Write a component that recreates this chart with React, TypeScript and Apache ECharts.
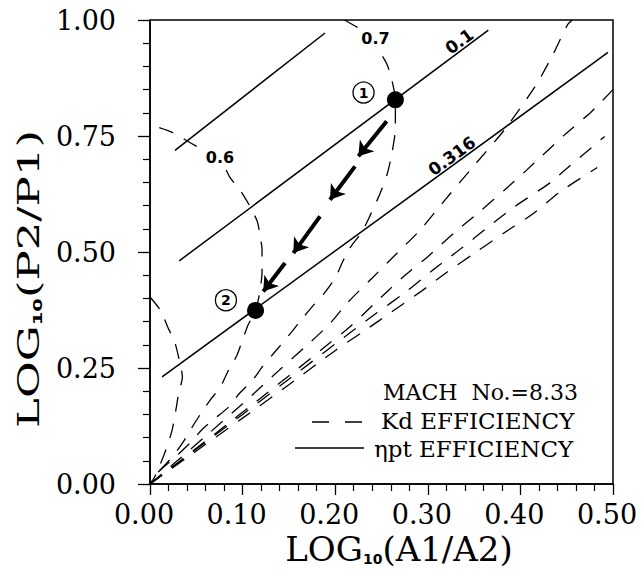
import React, { useEffect, useRef } from "react";
import * as echarts from "echarts";

// ---- tick labels ----
const xTickValues = [0, 0.1, 0.2, 0.3, 0.4, 0.5];
const xTickLabels = ["0.00", "0.10", "0.20", "0.30", "0.40", "0.50"];
const yTickValues = [0, 0.25, 0.5, 0.75, 1.0];
const yTickLabels = ["0.00", "0.25", "0.50", "0.75", "1.00"];

// ---- ηpt efficiency lines (solid) ----
const etaUpper = [[0.027, 0.719], [0.189, 0.972]];
const eta01 = [[0.0316, 0.481], [0.3654, 0.978]];
const eta0316 = [[0.013, 0.231], [0.4946, 0.93]];

// ---- Kd efficiency curves (dashed) ----
const kdLoopSmall = [
  [0, 0.403], [0.011, 0.375], [0.019, 0.339], [0.027, 0.304], [0.032, 0.263],
  [0.035, 0.231], [0.031, 0.196], [0.028, 0.16], [0.024, 0.117], [0.019, 0.084],
  [0.013, 0.052], [0.005, 0.015], [0, 0],
];
const kd06 = [
  [0.01, 0.768], [0.025, 0.757], [0.043, 0.736], [0.059, 0.718], [0.076, 0.699],
  [0.086, 0.662], [0.099, 0.628], [0.108, 0.598], [0.116, 0.565], [0.119, 0.533],
  [0.121, 0.505], [0.121, 0.457], [0.118, 0.408], [0.114, 0.375], [0.106, 0.343],
  [0.1, 0.311], [0.094, 0.278], [0.084, 0.242], [0.076, 0.209], [0.065, 0.181],
  [0.054, 0.149], [0.045, 0.121], [0.035, 0.088], [0.024, 0.058], [0.011, 0.03], [0, 0],
];
const kd07 = [
  [0.21, 1.0], [0.224, 0.984], [0.234, 0.971], [0.248, 0.932], [0.256, 0.904],
  [0.261, 0.872], [0.265, 0.828], [0.265, 0.768], [0.261, 0.71], [0.256, 0.667],
  [0.248, 0.624], [0.238, 0.58], [0.229, 0.544], [0.216, 0.509], [0.208, 0.479],
  [0.2, 0.444], [0.187, 0.408], [0.176, 0.384], [0.165, 0.358], [0.153, 0.328],
  [0.144, 0.306], [0.132, 0.278], [0.121, 0.252], [0.111, 0.224], [0.097, 0.196],
  [0.084, 0.164], [0.068, 0.138], [0.056, 0.117], [0.043, 0.088], [0.025, 0.054],
  [0.009, 0.026], [0, 0],
];
const kdFanA = [
  [0, 0], [0.03, 0.051], [0.06, 0.103], [0.1, 0.173], [0.14, 0.246], [0.17, 0.3],
  [0.194, 0.345], [0.213, 0.39], [0.24, 0.444], [0.267, 0.498], [0.292, 0.548],
  [0.316, 0.606], [0.346, 0.677], [0.383, 0.764], [0.416, 0.857], [0.434, 0.921],
  [0.451, 0.99], [0.456, 1.0],
];
const kdFanB = [
  [0, 0], [0.03, 0.046], [0.07, 0.108], [0.12, 0.186], [0.16, 0.249], [0.194, 0.304],
  [0.216, 0.339], [0.243, 0.39], [0.272, 0.444], [0.3, 0.49], [0.329, 0.542],
  [0.356, 0.587], [0.386, 0.639], [0.407, 0.677], [0.421, 0.703], [0.448, 0.753],
  [0.477, 0.803], [0.5, 0.85],
];
const kdFanC = [
  [0, 0], [0.04, 0.06], [0.1, 0.15], [0.16, 0.241], [0.216, 0.326], [0.245, 0.369],
  [0.275, 0.412], [0.306, 0.462], [0.337, 0.509], [0.364, 0.552], [0.394, 0.598],
  [0.432, 0.649], [0.446, 0.673], [0.491, 0.749],
];
const kdFanD = [
  [0, 0], [0.04, 0.057], [0.1, 0.142], [0.15, 0.214], [0.201, 0.289], [0.23, 0.328],
  [0.261, 0.371], [0.292, 0.414], [0.321, 0.457], [0.353, 0.501], [0.383, 0.542],
  [0.414, 0.583], [0.443, 0.63], [0.483, 0.682],
];

// ---- operating points and path arrows ----
const statePoints = [[0.265, 0.828], [0.114, 0.374]];
const stateTags = ["1", "2"];
const stateTagPositions = [[0.2306, 0.8436], [0.082, 0.396]];
const pathArrows = [
  [[0.2556, 0.7817], [0.225, 0.7062]],
  [[0.2214, 0.6846], [0.1944, 0.6127]],
  [[0.1836, 0.5767], [0.1548, 0.4977]],
  [[0.1458, 0.4762], [0.1223, 0.4149]],
];

// ---- contour labels ----
const slopeLabelTexts = ["0.1", "0.316"];
const slopeLabelPositions = [[0.334, 0.954], [0.326, 0.707]];
const curveLabelTexts = ["0.6", "0.7"];
const curveLabelPositions = [[0.0756, 0.7044], [0.2435, 0.96]];

// ---- legend texts ----
const machText = "MACH  No.=8.33";
const kdName = "Kd EFFICIENCY";
const etaName = "ηpt EFFICIENCY";

const SERIF = "DejaVu Serif";
const SANS = "DejaVu Sans";
const CLEAR = "rgba(0,0,0,0)";
const DASH = [15, 12];

export default function App() {
  const ref = useRef<HTMLDivElement>(null);

  useEffect(() => {
    if (!ref.current) return;
    const chart = echarts.init(ref.current, null, { renderer: "svg" });

    const solid = (data: number[][]) => ({
      type: "line",
      name: etaName,
      data,
      symbol: "none",
      showSymbol: false,
      lineStyle: { color: "#000", width: 1.5, type: "solid" },
      itemStyle: { color: "#000" },
      z: 3,
      silent: true,
    });
    const dashed = (data: number[][]) => ({
      type: "line",
      name: kdName,
      data,
      symbol: "none",
      showSymbol: false,
      smooth: 0.25,
      lineStyle: { color: "#000", width: 1.3, type: DASH },
      itemStyle: { color: "#000" },
      z: 2,
      silent: true,
    });

    const legendText = (text: string, x: number, y: number) => ({
      type: "text",
      x,
      y,
      z: 10,
      style: {
        text,
        fontFamily: SERIF,
        fontSize: 23,
        fill: "#000",
        align: "left",
        verticalAlign: "middle",
      },
    });

    const option: any = {
      animation: false,
      backgroundColor: "#fff",
      textStyle: { fontFamily: SERIF, color: "#000" },
      grid: {
        left: 150,
        top: 20,
        width: 463,
        height: 464,
        show: true,
        borderColor: "#000",
        borderWidth: 1.5,
        containLabel: false,
      },
      xAxis: {
        type: "value",
        min: 0,
        max: 0.5,
        interval: 0.1,
        axisLine: { show: true, lineStyle: { color: "#000", width: 1.5 } },
        axisTick: { show: true, inside: false, length: 11, lineStyle: { color: "#000", width: 1.3 } },
        minorTick: { show: true, splitNumber: 5, length: 7, lineStyle: { color: "#000", width: 1.2 } },
        splitLine: { show: false },
        axisLabel: {
          margin: 17,
          fontFamily: SERIF,
          fontSize: 27,
          color: "#000",
          padding: [0, 12, 0, 0],
          formatter: (v: number) => {
            const i = xTickValues.findIndex((t) => Math.abs(t - v) < 1e-6);
            return i >= 0 ? xTickLabels[i] : "";
          },
        },
      },
      yAxis: {
        type: "value",
        min: 0,
        max: 1,
        interval: 0.25,
        axisLine: { show: true, lineStyle: { color: "#000", width: 1.5 } },
        axisTick: { show: true, inside: false, length: 12, lineStyle: { color: "#000", width: 1.3 } },
        minorTick: { show: true, splitNumber: 5, length: 7, lineStyle: { color: "#000", width: 1.2 } },
        splitLine: { show: false },
        axisLabel: {
          margin: 34,
          fontFamily: SERIF,
          fontSize: 27,
          color: "#000",
          formatter: (v: number) => {
            const i = yTickValues.findIndex((t) => Math.abs(t - v) < 1e-6);
            return i >= 0 ? yTickLabels[i] : "";
          },
        },
      },
      graphic: [
        {
          type: "text",
          x: 29,
          y: 279,
          rotation: Math.PI / 2,
          scaleX: 1.5,
          style: {
            text: "{a|LOG}{s|10}{a|(P2/P1)}",
            align: "center",
            verticalAlign: "middle",
            fill: "#000",
            rich: {
              a: { fontFamily: SERIF, fontSize: 30, fill: "#000" },
              s: { fontFamily: SANS, fontSize: 13, fontWeight: "bold", fill: "#000", verticalAlign: "bottom" },
            },
          },
        },
        {
          type: "text",
          x: 399,
          y: 549,
          style: {
            text: "{a|LOG}{s|10}{a|(A1/A2)}",
            align: "center",
            verticalAlign: "middle",
            fill: "#000",
            rich: {
              a: { fontFamily: SERIF, fontSize: 34, fill: "#000" },
              s: { fontFamily: SANS, fontSize: 14, fontWeight: "bold", fill: "#000", verticalAlign: "bottom" },
            },
          },
        },
        // legend block
        {
          type: "text",
          x: 383,
          y: 392,
          z: 10,
          style: {
            text: machText,
            fontFamily: SERIF,
            fontSize: 22,
            fill: "#000",
            align: "left",
            verticalAlign: "middle",
          },
        },
        {
          type: "line",
          z: 10,
          shape: { x1: 312, y1: 422, x2: 364, y2: 422 },
          style: { stroke: "#000", lineWidth: 1.3, lineDash: [17, 16] },
        },
        legendText(kdName, 381, 421),
        {
          type: "line",
          z: 10,
          shape: { x1: 295, y1: 448, x2: 364, y2: 448 },
          style: { stroke: "#000", lineWidth: 1.5 },
        },
        legendText(etaName, 374, 449),
      ],
      series: [
        solid(etaUpper),
        solid(eta01),
        solid(eta0316),
        dashed(kdLoopSmall),
        dashed(kd06),
        dashed(kd07),
        dashed(kdFanA),
        dashed(kdFanB),
        dashed(kdFanC),
        dashed(kdFanD),
        {
          type: "lines",
          name: "path",
          coordinateSystem: "cartesian2d",
          symbol: ["none", "arrow"],
          symbolSize: 14,
          lineStyle: { color: "#000", width: 4, opacity: 1, curveness: 0 },
          data: pathArrows.map((c) => ({ coords: c })),
          z: 5,
          silent: true,
        },
        {
          type: "scatter",
          name: "states",
          data: statePoints,
          symbol: "circle",
          symbolSize: 17,
          itemStyle: { color: "#000", opacity: 1 },
          z: 6,
          silent: true,
        },
        {
          type: "scatter",
          name: "stateTags",
          data: stateTagPositions,
          symbol: "circle",
          symbolSize: 21,
          itemStyle: { color: "#fff", borderColor: "#000", borderWidth: 1.3, opacity: 1 },
          label: {
            show: true,
            position: "inside",
            formatter: (p: any) => stateTags[p.dataIndex],
            fontFamily: SANS,
            fontSize: 14,
            fontWeight: "bold",
            color: "#000",
          },
          z: 6,
          silent: true,
        },
        {
          type: "scatter",
          name: "slopeLabels",
          data: slopeLabelPositions,
          symbol: "circle",
          symbolSize: 2,
          itemStyle: { color: CLEAR, opacity: 1 },
          label: {
            show: true,
            position: "inside",
            rotate: 36,
            formatter: (p: any) => slopeLabelTexts[p.dataIndex],
            fontFamily: SANS,
            fontSize: 17,
            fontWeight: "bold",
            color: "#000",
          },
          z: 7,
          silent: true,
        },
        {
          type: "scatter",
          name: "curveLabels",
          data: curveLabelPositions,
          symbol: "circle",
          symbolSize: 2,
          itemStyle: { color: CLEAR, opacity: 1 },
          label: {
            show: true,
            position: "inside",
            formatter: (p: any) => curveLabelTexts[p.dataIndex],
            fontFamily: SANS,
            fontSize: 16,
            fontWeight: "bold",
            color: "#000",
            backgroundColor: "#fff",
            padding: [0, 1],
          },
          z: 7,
          silent: true,
        },
      ],
    };

    chart.setOption(option);
    return () => chart.dispose();
  }, []);

  return (
    <div
      ref={ref}
      style={{ position: "absolute", left: 0, top: 0, width: 643, height: 571, background: "#fff" }}
    />
  );
}
